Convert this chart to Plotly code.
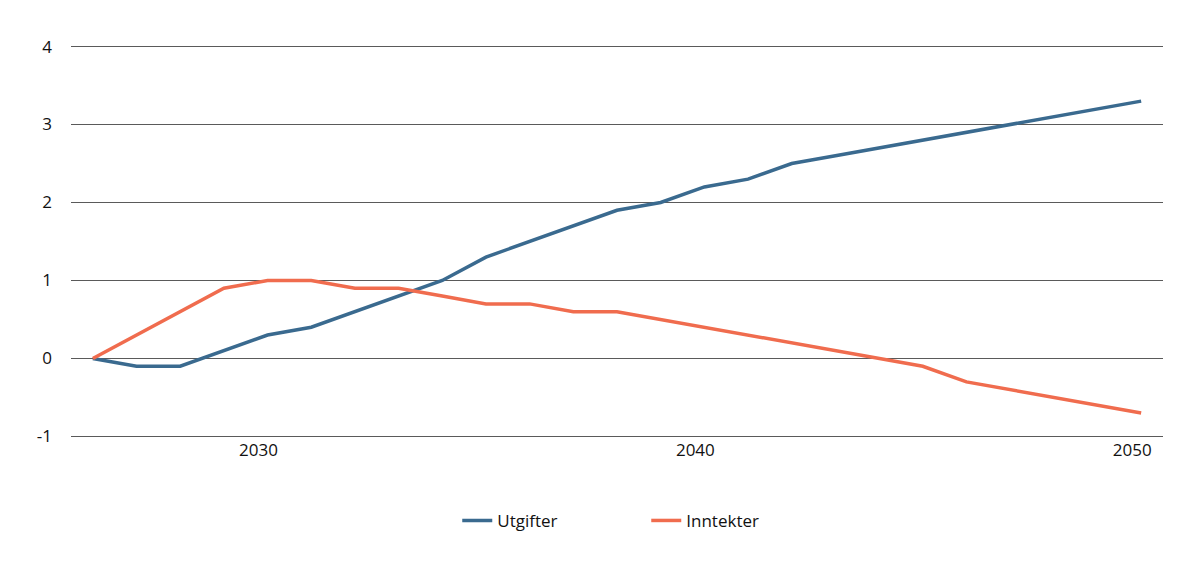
import plotly.graph_objects as go

# Years on the x axis
years = list(range(2026, 2051))

# Values (percent / index points)
utgifter = [0.0, -0.1, -0.1, 0.1, 0.3, 0.4, 0.6, 0.8, 1.0, 1.3,
            1.5, 1.7, 1.9, 2.0, 2.2, 2.3, 2.5, 2.6, 2.7, 2.8,
            2.9, 3.0, 3.1, 3.2, 3.3]
inntekter = [0.0, 0.3, 0.6, 0.9, 1.0, 1.0, 0.9, 0.9, 0.8, 0.7,
             0.7, 0.6, 0.6, 0.5, 0.4, 0.3, 0.2, 0.1, 0.0, -0.1,
             -0.3, -0.4, -0.5, -0.6, -0.7]

# Tick labels
x_ticks = [2030, 2040, 2050]
y_ticks = [-1, 0, 1, 2, 3, 4]

BLUE = '#3a6a8f'
ORANGE = '#f06c4e'
FONT = 'Open Sans'


def create_line_chart():
    """
    Builds the two-line chart of expenditures and revenues.
    Margins are reduced by 8px on top/left to make up for the page's body margin.
    """
    fig = go.Figure()

    fig.add_trace(go.Scatter(
        x=years, y=utgifter, name='Utgifter', mode='lines',
        line=dict(color=BLUE, width=3.5),
    ))
    fig.add_trace(go.Scatter(
        x=years, y=inntekter, name='Inntekter', mode='lines',
        line=dict(color=ORANGE, width=3.5),
    ))

    fig.update_layout(
        width=1198,
        height=568,
        margin=dict(l=63, r=43, t=37, b=138),
        paper_bgcolor='white',
        plot_bgcolor='white',
        font=dict(family=FONT, size=17, color='#111111'),
        showlegend=True,
        legend=dict(
            orientation='h',
            xref='container', x=0.375, xanchor='left',
            yref='container', y=0.097, yanchor='middle',
            entrywidth=144, entrywidthmode='pixels',
            font=dict(size=17),
        ),
    )

    fig.update_xaxes(
        range=[2025.5, 2050.5],
        tickvals=x_ticks,
        ticktext=[str(t) for t in x_ticks],
        ticklabelshift=-9,
        showgrid=False,
        zeroline=False,
        showline=False,
        ticks='',
    )
    # pad the range a little so the -1 and 4 gridlines aren't clipped away
    fig.update_yaxes(
        range=[-1.02, 4.02],
        tickvals=y_ticks,
        ticktext=[str(t) for t in y_ticks],
        showgrid=True,
        gridcolor='#5a5a5a',
        gridwidth=1,
        zeroline=False,
        showline=False,
        ticks='',
        ticklabelstandoff=18,
    )
    return fig


if __name__ == "__main__":
    chart = create_line_chart()
    chart.write_html("out.html")
